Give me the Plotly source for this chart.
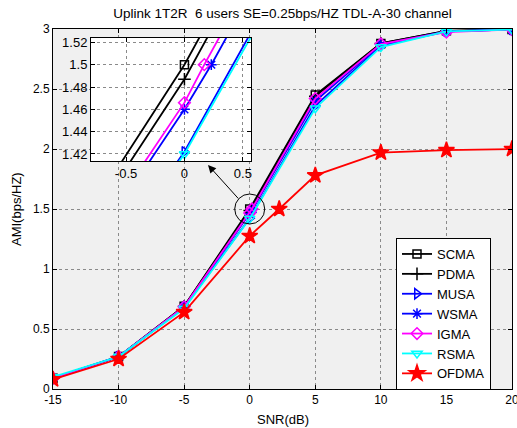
import plotly.graph_objects as go

# ---------------- data ----------------
snr = [-15, -10, -5, 0, 5, 10, 15, 20]

scma_x = snr
scma = [0.09, 0.27, 0.69, 1.50, 2.45, 2.88, 2.985, 2.995]
pdma_x = snr
pdma = [0.09, 0.27, 0.69, 1.487, 2.44, 2.88, 2.985, 2.995]
musa_x = snr
musa = [0.09, 0.27, 0.68, 1.422, 2.36, 2.86, 2.98, 2.995]
wsma_x = [-15, -10, -5, 0, 0.23, 5, 10, 15, 20]
wsma = [0.09, 0.27, 0.68, 1.46, 1.50, 2.40, 2.87, 2.98, 2.995]
igma_x = [-15, -10, -5, 0, 0.17, 5, 10, 15, 20]
igma = [0.09, 0.27, 0.685, 1.466, 1.50, 2.42, 2.875, 2.975, 2.995]
rsma_x = snr
rsma = [0.10, 0.27, 0.67, 1.42, 2.34, 2.85, 2.98, 2.995]
ofdma_x = [-15, -10, -5, 0, 2.25, 5, 10, 15, 20]
ofdma = [0.08, 0.25, 0.64, 1.275, 1.50, 1.78, 1.97, 1.99, 2.0]

x_ticks = [-15, -10, -5, 0, 5, 10, 15, 20]
x_ticktext = ["-15", "-10", "-5", "0", "5", "10", "15", "20"]
y_ticks = [0, 0.5, 1, 1.5, 2, 2.5, 3]
y_ticktext = ["0", "0.5", "1", "1.5", "2", "2.5", "3"]
ix_ticks = [-0.5, 0, 0.5]
ix_ticktext = ["-0.5", "0", "0.5"]
iy_ticks = [1.42, 1.44, 1.46, 1.48, 1.50, 1.52]
iy_ticktext = ["1.42", "1.44", "1.46", "1.48", "1.5", "1.52"]

title_text = "Uplink 1T2R  6 users SE=0.25bps/HZ TDL-A-30 channel"

series = [
    ("SCMA", scma_x, scma, "#000000", "square-open", 8),
    ("PDMA", pdma_x, pdma, "#000000", "cross-thin-open", 9),
    ("MUSA", musa_x, musa, "#0000ff", "triangle-right-open", 9),
    ("WSMA", wsma_x, wsma, "#0000ff", "asterisk-open", 9),
    ("IGMA", igma_x, igma, "#ff00ff", "diamond-open", 9),
    ("RSMA", rsma_x, rsma, "#00ffff", "triangle-down-open", 9),
    ("OFDMA", ofdma_x, ofdma, "#ff0000", "star", 12),
]

FONT = "Liberation Sans, Arial, sans-serif"

W, H = 517, 428
L, R, T, B = 53, 5, 29, 39
PLOT_H = H - T - B

fig = go.Figure()
for name, xs, ys, col, sym, sz in series:
    mk = dict(symbol=sym, size=sz, color=col, line=dict(color=col, width=1.5))
    fig.add_trace(go.Scatter(x=xs, y=ys, name=name, mode="lines+markers",
                             line=dict(color=col, width=1.8), marker=mk,
                             xaxis="x", yaxis="y"))
for name, xs, ys, col, sym, sz in series:
    mk = dict(symbol=sym, size=sz, color=col, line=dict(color=col, width=1.5))
    fig.add_trace(go.Scatter(x=xs, y=ys, name=name, mode="lines+markers",
                             line=dict(color=col, width=1.8), marker=mk,
                             xaxis="x2", yaxis="y2", showlegend=False))

axis_common = dict(showline=True, linecolor="black", linewidth=1, mirror="ticks",
                   ticks="inside", ticklen=4, tickcolor="black",
                   showgrid=True, gridcolor="#8a8a8a", griddash="dot", gridwidth=1,
                   zeroline=False, ticklabeloverflow="allow", automargin=False,
                   tickfont=dict(family=FONT, size=12, color="black"))

fig.update_layout(
    width=W, height=H, autosize=False,
    margin=dict(l=L, r=R, t=T, b=B),
    paper_bgcolor="white", plot_bgcolor="white",
    font=dict(family=FONT, size=12, color="black"),
    title=dict(text=title_text, x=0.5, xref="paper", xanchor="center",
               y=1 - 13.5 / H, yref="container", yanchor="middle",
               font=dict(family=FONT, size=13.5, color="black")),
    xaxis=dict(axis_common, range=[-15, 20], tickvals=x_ticks, ticktext=x_ticktext,
               domain=[0, 1]),
    yaxis=dict(axis_common, range=[0, 3], tickvals=y_ticks, ticktext=y_ticktext,
               domain=[0, 1]),
    xaxis2=dict(axis_common, anchor="y2", domain=[0.0828, 0.4314],
                range=[-0.80, 0.57], tickvals=ix_ticks, ticktext=ix_ticktext,
                tickfont=dict(family=FONT, size=13, color="black")),
    yaxis2=dict(axis_common, anchor="x2", domain=[0.6333, 0.975],
                range=[1.4137, 1.5239], tickvals=iy_ticks, ticktext=iy_ticktext,
                tickfont=dict(family=FONT, size=13, color="black")),
    legend=dict(x=(396 - 53) / 459, y=(389 - 238) / 360, xanchor="left", yanchor="top",
                bgcolor="white", bordercolor="black", borderwidth=1,
                font=dict(family=FONT, size=13, color="black"),
                tracegroupgap=0),
    showlegend=True,
)

# grey plot area of the main axes (inset keeps white background)
fig.add_shape(type="rect", xref="paper", yref="paper", x0=0, x1=1, y0=0, y1=1,
              fillcolor="#f0f0f0", line=dict(width=0), layer="below")

# magnifier circle around (0, 1.5)
fig.add_shape(type="circle", xref="x", yref="y", xsizemode="pixel", ysizemode="pixel",
              xanchor=0, yanchor=1.5, x0=-15, x1=15, y0=-15, y1=15,
              line=dict(color="black", width=1), layer="above")

# arrow from circle to inset
fig.add_annotation(x=-3.18, y=1.867, xref="x", yref="y", ax=31.6, ay=35,
                   text="", showarrow=True, arrowhead=2, arrowsize=1.6,
                   arrowwidth=1, arrowcolor="black")

# axis titles
fig.add_annotation(text="SNR(dB)", xref="paper", yref="paper", x=0.5,
                   y=-30 / PLOT_H, showarrow=False, xanchor="center",
                   yanchor="middle", font=dict(family=FONT, size=13, color="black"))
fig.add_annotation(text="AMI(bps/HZ)", xref="paper", yref="paper",
                   x=(16 - 53) / 459, y=0.5, showarrow=False, textangle=-90,
                   xanchor="center", yanchor="middle",
                   font=dict(family=FONT, size=13, color="black"))

page_css = (
    "var d=document.documentElement,b=document.body;"
    "d.style.margin='0';d.style.padding='0';d.style.overflow='hidden';"
    "d.style.width='517px';d.style.height='428px';"
    "b.style.margin='0';b.style.padding='0';b.style.overflow='hidden';"
    "b.style.width='517px';b.style.height='428px';"
)

fig.write_html("out.html", config={"displayModeBar": False}, post_script=page_css)
